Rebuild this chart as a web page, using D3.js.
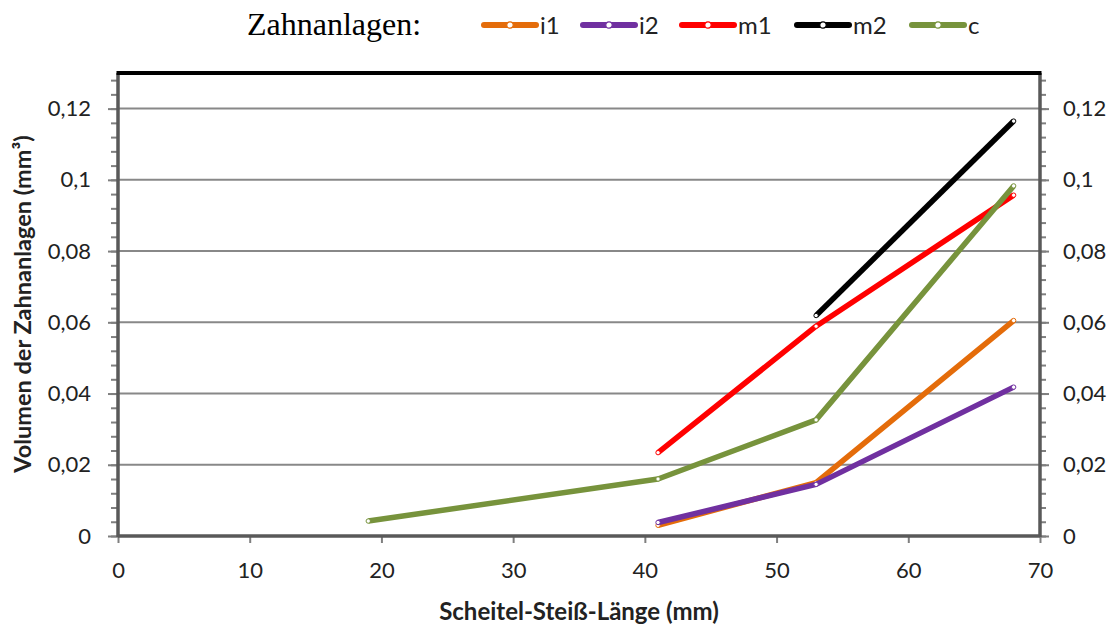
<!DOCTYPE html>
<html>
<head>
<meta charset="utf-8">
<script src="https://cdn.jsdelivr.net/npm/d3@7"></script>
<style>
  body { margin: 0; background: #fff; }
  svg text { font-family: Lato, "Open Sans", sans-serif; }
</style>
</head>
<body>
<div id="chart"></div>
<script>
// Werte
const seriesNames = ["i1", "i2", "m1", "m2", "c"];
const seriesColors = ["#e46c0a", "#7030a0", "#ff0000", "#000000", "#77933c"];
const xI1 = [41, 53, 68];
const yI1 = [0.003, 0.015, 0.0605];
const xI2 = [41, 53, 68];
const yI2 = [0.0038, 0.0145, 0.0418];
const xM1 = [41, 53, 68];
const yM1 = [0.0234, 0.0589, 0.0957];
const xM2 = [53, 68];
const yM2 = [0.0619, 0.1165];
const xC = [19, 41, 53, 68];
const yC = [0.0042, 0.016, 0.0326, 0.0983];
const xTicks = [0, 10, 20, 30, 40, 50, 60, 70];
const yTicks = [0, 0.02, 0.04, 0.06, 0.08, 0.1, 0.12];

const series = [
  { name: "i1", xs: xI1, ys: yI1 },
  { name: "i2", xs: xI2, ys: yI2 },
  { name: "m1", xs: xM1, ys: yM1 },
  { name: "m2", xs: xM2, ys: yM2 },
  { name: "c", xs: xC, ys: yC }
];

const width = 1118, height = 628;
const margin = { left: 118, right: 78, top: 73, bottom: 92 };

const svg = d3.select("#chart").append("svg")
  .attr("width", width)
  .attr("height", height);

const x = d3.scaleLinear().domain([0, 70]).range([margin.left, width - margin.right]);
const y = d3.scaleLinear().domain([0, 0.13]).range([height - margin.bottom, margin.top]);
const color = d3.scaleOrdinal().domain(seriesNames).range(seriesColors);
const fmt = d => d3.format("~g")(d).replace(".", ",");

// Gitterlinien
svg.append("g")
  .selectAll("line")
  .data(yTicks.filter(d => d > 0))
  .join("line")
  .attr("x1", x(0)).attr("x2", x(70))
  .attr("y1", d => y(d)).attr("y2", d => y(d))
  .attr("stroke", "#888").attr("stroke-width", 2);

// Achsen links / rechts mit Nebenstrichen
const minor = d3.range(0, 0.1301, 0.004);
const gl = svg.append("g").attr("transform", `translate(${x(0)},0)`)
  .call(d3.axisLeft(y).tickValues(minor).tickSize(7).tickFormat(""));
const gr = svg.append("g").attr("transform", `translate(${x(70)},0)`)
  .call(d3.axisRight(y).tickValues(minor).tickSize(6).tickFormat(""));
const gl2 = svg.append("g").attr("transform", `translate(${x(0)},0)`)
  .call(d3.axisLeft(y).tickValues(yTicks).tickSize(10).tickPadding(17).tickFormat(fmt));
const gr2 = svg.append("g").attr("transform", `translate(${x(70)},0)`)
  .call(d3.axisRight(y).tickValues(yTicks).tickSize(9).tickPadding(14).tickFormat(fmt));
const gb = svg.append("g").attr("transform", `translate(0,${y(0)})`)
  .call(d3.axisBottom(x).tickValues(xTicks).tickSize(7).tickPadding(19).tickFormat(d3.format("d")));

[gl, gr, gl2, gr2, gb].forEach(g => {
  g.select(".domain").remove();
  g.selectAll(".tick line").attr("stroke", "#7f7f7f").attr("stroke-width", 2);
  g.selectAll("text").attr("font-size", 22).attr("fill", "#222");
});

// Rahmen
svg.append("line").attr("x1", x(0)).attr("x2", x(0)).attr("y1", y(0.13)).attr("y2", y(0) + 1)
  .attr("stroke", "#595959").attr("stroke-width", 3.5);
svg.append("line").attr("x1", x(70)).attr("x2", x(70)).attr("y1", y(0.13)).attr("y2", y(0) + 1)
  .attr("stroke", "#595959").attr("stroke-width", 3.5);
svg.append("line").attr("x1", x(0)).attr("x2", x(70)).attr("y1", y(0)).attr("y2", y(0))
  .attr("stroke", "#595959").attr("stroke-width", 3.5);
svg.append("line").attr("x1", x(0) - 1.5).attr("x2", x(70) + 1.5).attr("y1", y(0.13)).attr("y2", y(0.13))
  .attr("stroke", "#000").attr("stroke-width", 4);

// Linien
const line = d3.line().x(d => x(d[0])).y(d => y(d[1]));
const sg = svg.append("g");
series.forEach(s => {
  const pts = s.xs.map((v, i) => [v, s.ys[i]]);
  sg.append("path")
    .datum(pts)
    .attr("d", line)
    .attr("fill", "none")
    .attr("stroke", color(s.name))
    .attr("stroke-width", 5.5)
    .attr("stroke-linejoin", "round");
  sg.append("g").selectAll("circle")
    .data(pts)
    .join("circle")
    .attr("cx", d => x(d[0])).attr("cy", d => y(d[1]))
    .attr("r", 2.2)
    .attr("fill", "#fff")
    .attr("stroke", color(s.name))
    .attr("stroke-width", 1);
});

// Achsentitel
svg.append("text")
  .attr("x", (x(0) + x(70)) / 2).attr("y", 620)
  .attr("text-anchor", "middle")
  .attr("font-size", 24).attr("font-weight", "bold").attr("fill", "#222")
  .text("Scheitel-Steiß-Länge (mm)");
svg.append("text")
  .attr("transform", `translate(31,304) rotate(-90)`)
  .attr("text-anchor", "middle")
  .attr("font-size", 23.5).attr("font-weight", "bold").attr("fill", "#222")
  .text("Volumen der Zahnanlagen (mm³)");

// Legende
svg.append("text")
  .attr("x", 247).attr("y", 35)
  .style("font-family", "'Liberation Serif', 'DejaVu Serif', serif")
  .attr("font-size", 32).attr("fill", "#000")
  .text("Zahnanlagen:");
const legX = [482, 581, 680, 795, 910];
const leg = svg.append("g").selectAll("g")
  .data(seriesNames)
  .join("g")
  .attr("transform", (d, i) => `translate(${legX[i]},25)`);
leg.append("line")
  .attr("x1", 2).attr("x2", 54)
  .attr("stroke", d => color(d)).attr("stroke-width", 6).attr("stroke-linecap", "round");
leg.append("circle")
  .attr("cx", 28).attr("r", 3.2)
  .attr("fill", "#fff").attr("stroke", d => color(d)).attr("stroke-width", 1.2);
leg.append("text")
  .attr("x", 58).attr("y", 9)
  .attr("font-size", 24).attr("fill", "#222")
  .text(d => d);
</script>
</body>
</html>
